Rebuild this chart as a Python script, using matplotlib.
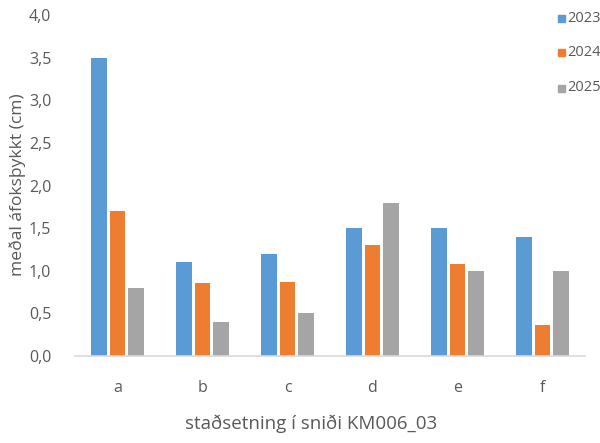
import matplotlib
matplotlib.use("Agg")
import matplotlib.pyplot as plt
import numpy as np

categories = ["a", "b", "c", "d", "e", "f"]
series_names = ["2023", "2024", "2025"]
v2023 = [3.5, 1.1, 1.2, 1.5, 1.5, 1.4]
v2024 = [1.7, 0.86, 0.87, 1.3, 1.08, 0.36]
v2025 = [0.8, 0.4, 0.5, 1.8, 1.0, 1.0]
yticks = [0.0, 0.5, 1.0, 1.5, 2.0, 2.5, 3.0, 3.5, 4.0]
ytick_labels = ["0,0", "0,5", "1,0", "1,5", "2,0", "2,5", "3,0", "3,5", "4,0"]
colors = ["#5B9BD5", "#ED7D31", "#A5A5A5"]

plt.rcParams["font.family"] = ["Open Sans", "DejaVu Sans"]
txt = "#595959"

fig = plt.figure(figsize=(6.0, 4.43), dpi=100)
W, H = 600, 443
left, right, top, bottom = 75, 585, 15, 356
ax = fig.add_axes([left / W, 1 - bottom / H, (right - left) / W, (bottom - top) / H])

x = np.arange(len(categories))
bw = 0.185
offs = [-0.215, 0.0, 0.215]
for vals, c, o, name in zip([v2023, v2024, v2025], colors, offs, series_names):
    ax.bar(x + o, vals, width=bw, color=c, label=name, zorder=2)

ax.set_xlim(-0.5, len(categories) - 0.5)
ax.set_ylim(0, 4.0)
ax.set_yticks(yticks)
ax.set_yticklabels(ytick_labels)
ax.set_xticks(x)
ax.set_xticklabels(categories)
ax.tick_params(axis="both", length=0, colors=txt, labelsize=11.5)
ax.tick_params(axis="x", pad=17)
ax.tick_params(axis="y", pad=17)
for s in ["top", "right", "left"]:
    ax.spines[s].set_visible(False)
ax.spines["bottom"].set_color("#D9D9D9")
ax.spines["bottom"].set_linewidth(1.2)

fig.text(18 / W, 1 - 185 / H, "meðal áfoksþykkt (cm)", color=txt, fontsize=12.6,
         rotation=90, ha="center", va="center")
fig.text(311 / W, 1 - 424 / H, "staðsetning í sniði KM006_03", color=txt, fontsize=13.5,
         ha="center", va="center")

# legend at right edge
leg_y = [18, 52, 88]
for name, c, yy in zip(series_names, colors, leg_y):
    fig.patches.append(plt.Rectangle((558 / W, 1 - (yy + 4) / H), 7 / W, 7 / H,
                                     transform=fig.transFigure, color=c, figure=fig))
    fig.text(567 / W, 1 - yy / H, name, color=txt, fontsize=10.5, va="center", ha="left")

fig.savefig("out.png", dpi=100)
